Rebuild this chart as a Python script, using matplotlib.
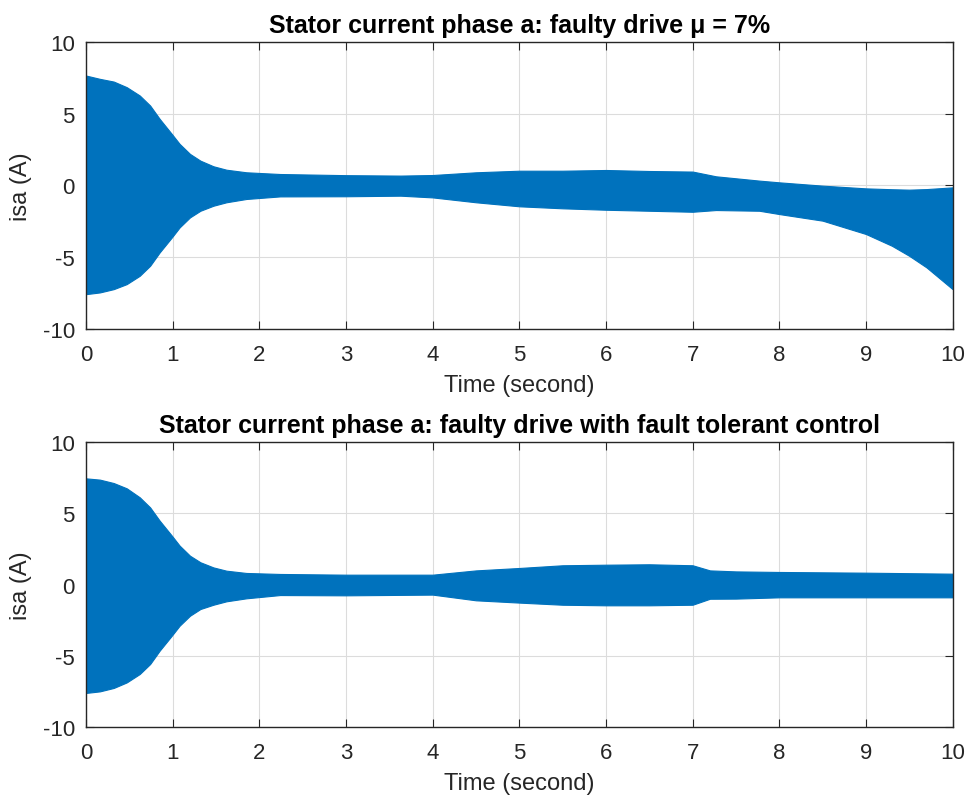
import numpy as np
import matplotlib
matplotlib.use("Agg")
import matplotlib.pyplot as plt

# Envelope of the stator current isa (A) over time (s): faulty drive, mu = 7%
t_faulty = [0.0, 0.16, 0.32, 0.47, 0.62, 0.74, 0.85, 0.99, 1.08, 1.20, 1.32, 1.47, 1.62, 1.85,
            2.24, 3.0, 3.63, 4.0, 4.5, 5.0, 5.5, 6.0, 6.5, 7.0, 7.27, 7.77, 8.0, 8.5, 9.0,
            9.3, 9.5, 9.7, 10.0]
upper_faulty = [7.66, 7.43, 7.24, 6.85, 6.27, 5.57, 4.64, 3.59, 2.90, 2.20, 1.73, 1.34, 1.10, 0.92,
                0.80, 0.72, 0.69, 0.73, 0.92, 1.03, 1.03, 1.08, 1.01, 0.97, 0.64, 0.34, 0.22, -0.01, -0.20,
                -0.26, -0.29, -0.25, -0.13]
lower_faulty = [-7.57, -7.45, -7.22, -6.87, -6.29, -5.59, -4.66, -3.62, -2.92, -2.22, -1.76, -1.41, -1.17, -0.94,
                -0.76, -0.75, -0.71, -0.83, -1.17, -1.45, -1.59, -1.69, -1.76, -1.83, -1.71, -1.76, -1.99, -2.45, -3.38,
                -4.20, -4.90, -5.71, -7.22]

# Envelope with fault tolerant control
t_ftc = [0.0, 0.16, 0.32, 0.47, 0.62, 0.74, 0.85, 0.99, 1.08, 1.20, 1.32, 1.47, 1.62, 1.85,
         2.24, 3.0, 4.0, 4.5, 5.0, 5.5, 6.0, 6.5, 7.0, 7.2, 7.5, 8.0, 9.0, 10.0]
upper_ftc = [7.45, 7.36, 7.12, 6.75, 6.12, 5.41, 4.48, 3.43, 2.73, 2.02, 1.56, 1.20, 0.97, 0.81,
             0.74, 0.69, 0.69, 0.99, 1.16, 1.35, 1.39, 1.42, 1.35, 0.99, 0.92, 0.88, 0.83, 0.76]
lower_ftc = [-7.61, -7.50, -7.26, -6.87, -6.28, -5.58, -4.64, -3.59, -2.89, -2.19, -1.72, -1.42, -1.18, -0.97,
             -0.74, -0.76, -0.71, -1.11, -1.27, -1.42, -1.46, -1.46, -1.42, -1.00, -0.99, -0.90, -0.90, -0.90]

titles = ["Stator current phase a: faulty drive \u03bc = 7%",
          "Stator current phase a: faulty drive with fault tolerant control"]
xticks = list(range(0, 11))
yticks = [-10, -5, 0, 5, 10]

plt.rcParams["font.family"] = ["Liberation Sans", "DejaVu Sans"]
plt.rcParams["axes.unicode_minus"] = False
blue = "#0072BD"
dark = "#262626"

fig = plt.figure(figsize=(9.73, 8.03), dpi=100)
ax1 = fig.add_axes([0.0884, 0.589, 0.979 - 0.0884, 0.9465 - 0.589])
ax2 = fig.add_axes([0.0884, 0.0934, 0.979 - 0.0884, 0.4483 - 0.0934])

series = [(t_faulty, upper_faulty, lower_faulty), (t_ftc, upper_ftc, lower_ftc)]
for ax, (t, up, lo), title in zip([ax1, ax2], series, titles):
    ax.fill_between(t, lo, up, color=blue, linewidth=0.8, edgecolor=blue, zorder=3)
    ax.set_xlim(0, 10)
    ax.set_ylim(-10, 10)
    ax.set_xticks(xticks)
    ax.set_yticks(yticks)
    ax.grid(True, color="#dcdcdc", linewidth=0.8, zorder=0)
    ax.set_axisbelow(True)
    ax.tick_params(direction="in", top=True, right=True, length=6, width=0.8,
                   colors=dark, labelsize=16, labelcolor=dark)
    ax.tick_params(axis="x", pad=11)
    ax.tick_params(axis="y", pad=8)
    for s in ax.spines.values():
        s.set_color(dark)
        s.set_linewidth(1.0)
        s.set_zorder(5)
    ax.set_title(title, fontsize=18, fontweight="bold", color="black", pad=7)
    ax.set_xlabel("Time (second)", fontsize=17, color=dark, labelpad=6)
    ax.set_ylabel("isa (A)", fontsize=17, color=dark, labelpad=8)

fig.savefig("out.png", dpi=100)
